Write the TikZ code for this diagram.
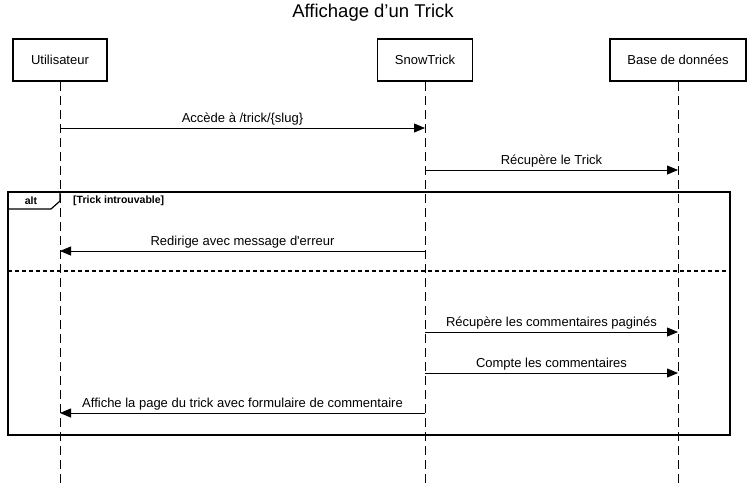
\documentclass[tikz,border=0pt]{standalone}
\usepackage{fontspec}
\setmainfont{Liberation Sans}
\usepackage{xcolor}
\usepackage{tikz}
\usetikzlibrary{arrows.meta, positioning, calc}
\definecolor{lineblack}{RGB}{0, 0, 0}

\tikzset{
    actor/.style={draw=lineblack, line width=1.6pt, minimum height=42pt, inner sep=0pt,
          font=\fontsize{13}{15}\selectfont},
    lifeline/.style={draw=lineblack, line width=0.8pt, dash pattern=on 9pt off 5pt},
    msg/.style={draw=lineblack, line width=0.8pt, -{Triangle[length=11pt, width=9pt]}},
    msglabel/.style={above=1.5pt, font=\fontsize{13}{15}\selectfont, inner sep=1pt, text depth=3pt},
    tagtext/.style={font=\fontsize{10.5}{12}\selectfont\bfseries},
    frame/.style={draw=lineblack, line width=1.6pt}
}

\begin{document}
\begin{tikzpicture}[x=1pt, y=-1pt]
    \useasboundingbox (0,0) rectangle (753,483);

    % title
    \node[font=\fontsize{18.5}{22}\selectfont] (title) at (373,13) {Affichage d’un Trick};

    % participants
    \node[actor, minimum width=94pt] (user) at (60,60) {Utilisateur};
    \node[actor, minimum width=95pt] (app) at (425,60) {SnowTrick};
    \node[actor, minimum width=136pt] (db) at (678,60) {Base de données};

    % lifelines
    \foreach \p in {user, app, db}
        \draw[lifeline] (\p.south) -- (\p |- 0,483);

    % messages
    \draw[msg] (user |- 0,128) -- node[msglabel] (m1) {Accède à /trick/\{slug\}} (app |- 0,128);
    \draw[msg] (app |- 0,170) -- node[msglabel] (m2) {Récupère le Trick} (db |- 0,170);

    % alt fragment
    \draw[frame] (8,192) rectangle (730,435);
    \draw[line width=1.2pt] (8,209) -- (51,209) -- (60,201) -- (60,192);
    \node[tagtext] (alttag) at (31,200.5) {alt};
    \node[tagtext, anchor=west, inner sep=0pt] (guard) at (73,200.5) {[Trick introuvable]};
    \draw[line width=1.6pt, dash pattern=on 4pt off 3pt] (8,271) -- (730,271);

    \draw[msg] (app |- 0,251) -- node[msglabel] (m3) {Redirige avec message d\textquotesingle erreur} (user |- 0,251);
    \draw[msg] (app |- 0,332) -- node[msglabel] (m4) {Récupère les commentaires paginés} (db |- 0,332);
    \draw[msg] (app |- 0,373) -- node[msglabel] (m5) {Compte les commentaires} (db |- 0,373);
    \draw[msg] (app |- 0,413) -- node[msglabel] (m6) {Affiche la page du trick avec formulaire de commentaire} (user |- 0,413);
\end{tikzpicture}
\end{document}
